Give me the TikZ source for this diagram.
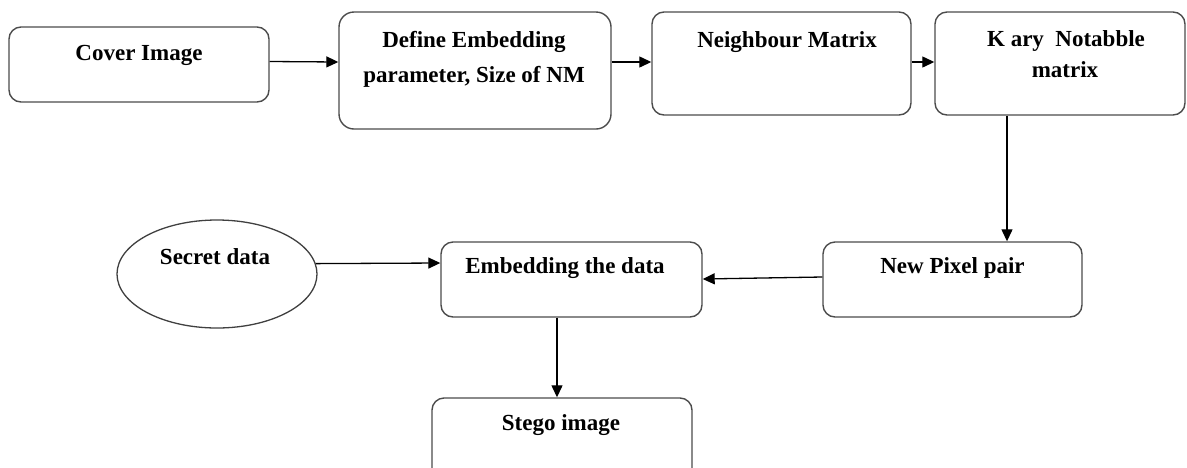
\documentclass[tikz,border=0pt]{standalone}
\usepackage{fontspec}
\setmainfont{Liberation Serif}
\usetikzlibrary{arrows.meta,shapes.geometric}
\tikzset{
  box/.style={draw=black!70, line width=1.4pt, rounded corners=12pt, inner sep=0pt},
  lbl/.style={anchor=base, inner sep=0pt, font=\fontsize{23}{28}\selectfont\bfseries},
  arr/.style={draw=black, line width=1.3pt, -{Triangle[length=12pt,width=11pt]}},
}
\begin{document}
\begin{tikzpicture}[x=1pt,y=-1pt]
\useasboundingbox (0,0) rectangle (1187,467);
% boxes
\node[box, minimum width=260pt, minimum height=75pt] (cover) at (139,64.5) {};
\node[box, rounded corners=15pt, minimum width=272pt, minimum height=117pt] (define) at (475,70.5) {};
\node[box, minimum width=259pt, minimum height=103pt] (neigh) at (781.5,63.5) {};
\node[box, minimum width=250pt, minimum height=103pt] (kary) at (1060,63.5) {};
\node[box, minimum width=259pt, minimum height=75pt] (newpix) at (952.5,279.5) {};
\node[box, minimum width=261pt, minimum height=75pt] (embed) at (571.5,279.5) {};
\node[box, minimum width=260pt, minimum height=82pt] (stego) at (562,439) {};
\node[draw=black!75, line width=1.3pt, ellipse, minimum width=200pt, minimum height=108pt, inner sep=0pt] (secret) at (217,274) {};
% texts
\node[lbl] (tcover) at (139,60) {Cover Image};
\node[lbl] (tdef1) at (474,47) {Define Embedding};
\node[lbl] (tdef2) at (474,82) {parameter, Size of NM};
\node[lbl] (tneigh) at (787,47) {Neighbour Matrix};
\node[lbl] (tkary1) at (1066,46) {K ary\ \ Notabble};
\node[lbl] (tkary2) at (1065,77) {matrix};
\node[lbl] (tnew) at (952.5,273) {New Pixel pair};
\node[lbl] (temb) at (565,273) {Embedding the data};
\node[lbl] (tsec) at (215,264) {Secret data};
\node[lbl] (tstego) at (561,430) {Stego image};
% connectors
\draw[arr] ([yshift=3pt]cover.east) -- ([yshift=8.5pt]define.west);
\draw[arr] ([yshift=8.5pt]define.east) -- ([yshift=1.5pt]neigh.west);
\draw[arr] ([yshift=1.5pt]neigh.east) -- ([yshift=1.5pt]kary.west);
\draw[arr] ([xshift=-53pt]kary.south) -- ([xshift=54.5pt]newpix.north);
\draw[arr] ([yshift=2.5pt]newpix.west) -- ([yshift=0.5pt]embed.east);
\draw[arr] (secret.6.4) -- ([yshift=16.5pt]embed.west);
\draw[arr] ([xshift=-14.5pt]embed.south) -- ([xshift=-5pt]stego.north);
\end{tikzpicture}
\end{document}
